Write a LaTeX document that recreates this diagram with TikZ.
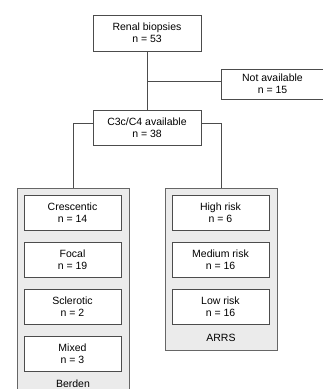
\documentclass[tikz,border=0pt]{standalone}
\usepackage{fontspec}
\setmainfont{Liberation Sans}
\begin{document}
\begin{tikzpicture}[x=1pt,y=-1pt,
  every node/.style={font=\fontsize{10.5}{12}\selectfont, align=center, inner sep=0pt},
  box/.style={draw=black!70, fill=white, line width=0.8pt, minimum width=108pt, minimum height=36pt},
  inbox/.style={draw=black!70, fill=white, line width=0.8pt, minimum width=97pt, minimum height=35pt},
  group/.style={draw=black!60, fill=black!8, line width=0.8pt, minimum width=112pt},
  conn/.style={draw=black!70, line width=0.8pt}]
\useasboundingbox (0,0) rectangle (323,389);
\begin{scope}
\clip (0,0) rectangle (323,389);
% group boxes
\node[group, minimum height=208pt] (berden) at (73,292) {};
\node[group, minimum height=162pt] (arrs) at (221,269) {};
\node (berdenlbl) at (73,384) {Berden};
\node (arrslbl) at (221,338) {ARRS};
% main boxes
\node[box] (renal) at (147,33) {Renal biopsies\\n = 53};
\node[box, minimum width=102pt, minimum height=30pt] (na) at (272.5,84) {Not available\\n = 15};
\node[box, minimum height=35pt] (c3) at (147,127.5) {C3c/C4 available\\n = 38};
% inner boxes
\node[inbox] (cres) at (72.5,212.5) {Crescentic\\n = 14};
\node[inbox] (focal) at (72.5,259.5) {Focal\\n = 19};
\node[inbox] (scl) at (72.5,307) {Sclerotic\\n = 2};
\node[inbox] (mixed) at (72.5,354) {Mixed\\n = 3};
\node[inbox] (high) at (220.5,212.5) {High risk\\n = 6};
\node[inbox] (med) at (220.5,259.5) {Medium risk\\n = 16};
\node[inbox] (low) at (220.5,307) {Low risk\\n = 16};
% connectors
\draw[conn] (renal.south) -- (c3.north);
\coordinate (branch) at (147,81);
\draw[conn] (branch) -- (branch -| na.west);
\draw[conn] ([yshift=4.5pt]c3.west) -| (berden.north);
\draw[conn] ([yshift=4.5pt]c3.east) -| (arrs.north);
\end{scope}
\end{tikzpicture}
\end{document}
